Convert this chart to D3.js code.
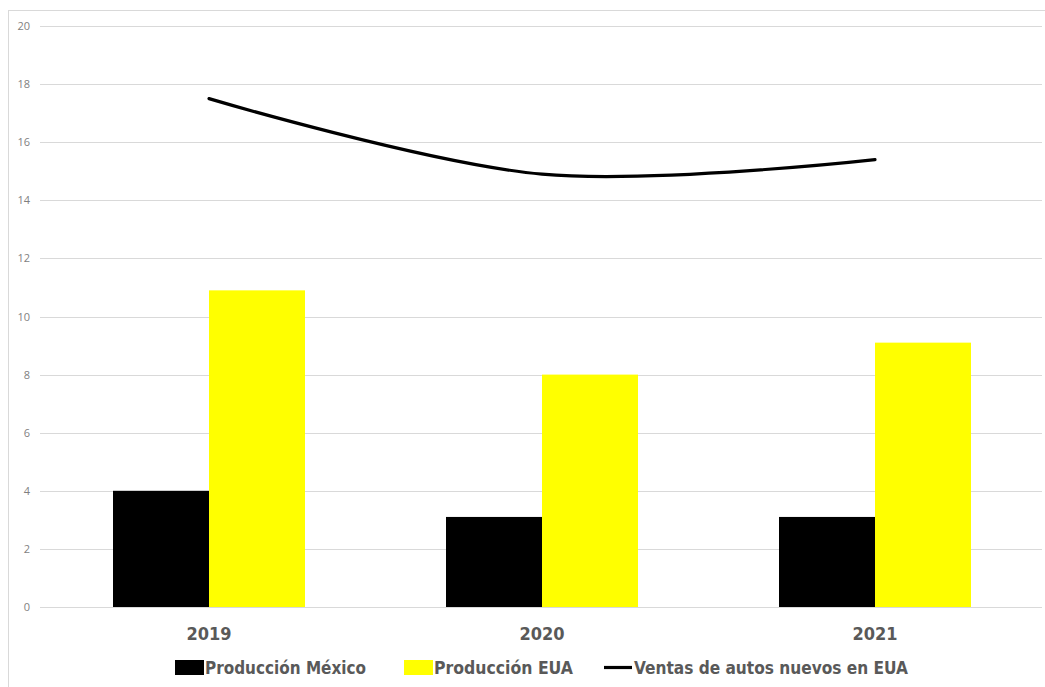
<!DOCTYPE html>
<html>
<head>
<meta charset="utf-8">
<script src="https://cdn.jsdelivr.net/npm/d3@7"></script>
<style>
  html, body { margin: 0; padding: 0; background: #fff; }
  svg { display: block; font-family: "Liberation Sans Narrow", "DejaVu Sans Condensed", "Open Sans", sans-serif; }
</style>
</head>
<body>
<svg id="chart" width="1045" height="687"></svg>
<script>
(function(d3) {
    'use strict';

    var years = ['2019', '2020', '2021'];
    var produccionMexico = [4.0, 3.1, 3.1];
    var produccionEUA = [10.9, 8.0, 9.1];
    var ventasEUA = [17.5, 14.9, 15.4];
    var yTicks = [0, 2, 4, 6, 8, 10, 12, 14, 16, 18, 20];
    var seriesNames = ['Producción México', 'Producción EUA', 'Ventas de autos nuevos en EUA'];

    var svg = d3.select('#chart');

    // outer frame
    svg.append('rect')
        .attr('x', 8.5).attr('y', 10.5)
        .attr('width', 1040).attr('height', 690)
        .attr('fill', 'none')
        .attr('stroke', '#d9d9d9');

    var x = d3.scaleBand()
        .domain(years)
        .range([42.5, 1041.5])
        .paddingInner(0)
        .paddingOuter(0);

    var y = d3.scaleLinear()
        .domain([0, 20])
        .range([607, 26]);

    var barW = 96;

    // gridlines
    svg.append('g')
        .selectAll('line')
        .data(yTicks)
        .enter().append('line')
        .attr('x1', 40).attr('x2', 1042)
        .attr('y1', function(d) { return Math.round(y(d)) + 0.5; })
        .attr('y2', function(d) { return Math.round(y(d)) + 0.5; })
        .attr('stroke', '#d9d9d9')
        .attr('stroke-width', 1);

    // y labels
    svg.append('g')
        .selectAll('text')
        .data(yTicks)
        .enter().append('text')
        .attr('x', 30)
        .attr('y', function(d) { return y(d) + 4; })
        .attr('text-anchor', 'end')
        .attr('font-size', 11)
        .attr('fill', '#7f7f7f')
        .style('font-family', '"Open Sans", sans-serif')
        .text(function(d) { return d; });

    var cx = function(d) { return x(d) + x.bandwidth() / 2; };

    // bars
    svg.append('g')
        .selectAll('rect')
        .data(years)
        .enter().append('rect')
        .attr('x', function(d) { return cx(d) - barW; })
        .attr('y', function(d, i) { return y(produccionMexico[i]); })
        .attr('width', barW)
        .attr('height', function(d, i) { return y(0) - y(produccionMexico[i]); })
        .attr('fill', '#000000');

    svg.append('g')
        .selectAll('rect')
        .data(years)
        .enter().append('rect')
        .attr('x', function(d) { return cx(d); })
        .attr('y', function(d, i) { return y(produccionEUA[i]); })
        .attr('width', barW)
        .attr('height', function(d, i) { return y(0) - y(produccionEUA[i]); })
        .attr('fill', '#ffff00');

    // line
    var line = d3.line()
        .x(function(d, i) { return cx(years[i]); })
        .y(function(d) { return y(d); })
        .curve(d3.curveCatmullRom.alpha(0.5));

    svg.append('path')
        .datum(ventasEUA)
        .attr('d', line)
        .attr('fill', 'none')
        .attr('stroke', '#000')
        .attr('stroke-width', 3.2)
        .attr('stroke-linecap', 'round');

    // category labels
    svg.append('g')
        .selectAll('text')
        .data(years)
        .enter().append('text')
        .attr('x', function(d) { return cx(d); })
        .attr('y', 640)
        .attr('text-anchor', 'middle')
        .attr('font-size', 18)
        .attr('font-weight', 'bold')
        .attr('fill', '#595959')
        .text(function(d) { return d; });

    // legend
    var legend = svg.append('g');
    var legendItems = [
        { name: seriesNames[0], x: 175, type: 'rect', color: '#000', textLen: 161 },
        { name: seriesNames[1], x: 404, type: 'rect', color: '#ffff00', textLen: 139 },
        { name: seriesNames[2], x: 604, type: 'line', color: '#000', textLen: 274 }
    ];

    legendItems.forEach(function(it) {
        if (it.type === 'rect') {
            legend.append('rect')
                .attr('x', it.x).attr('y', 660)
                .attr('width', 29).attr('height', 15)
                .attr('fill', it.color);
        } else {
            legend.append('line')
                .attr('x1', it.x).attr('x2', it.x + 28)
                .attr('y1', 667.5).attr('y2', 667.5)
                .attr('stroke', it.color)
                .attr('stroke-width', 3.2);
        }
        legend.append('text')
            .attr('x', it.x + 30)
            .attr('y', 674)
            .attr('font-size', 18)
            .attr('font-weight', 'bold')
            .attr('fill', '#595959')
            .attr('textLength', it.textLen)
            .attr('lengthAdjust', 'spacingAndGlyphs')
            .text(it.name);
    });
}(d3));
</script>
</body>
</html>
